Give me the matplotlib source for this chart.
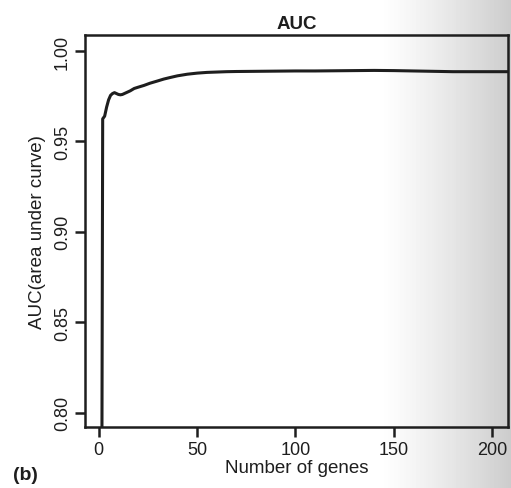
import numpy as np
import matplotlib
matplotlib.use("Agg")
import matplotlib.pyplot as plt

#%% Data.
n_genes = [1, 2, 3, 4, 5, 6, 7, 8, 9, 10, 11, 12, 14, 16, 18, 20, 23, 26, 30,
           33, 36, 40, 45, 50, 55, 60, 65, 70, 80, 90, 100, 110, 120, 130, 140,
           150, 160, 170, 180, 190, 200, 208]
auc = [0.50, 0.9625, 0.964, 0.969, 0.973, 0.9755, 0.9765, 0.977, 0.9765,
       0.976, 0.9758, 0.976, 0.977, 0.978, 0.9793, 0.980, 0.981, 0.9822,
       0.9835, 0.9845, 0.9853, 0.9863, 0.9872, 0.9878, 0.9882, 0.9884,
       0.9886, 0.9887, 0.9888, 0.9889, 0.989, 0.989, 0.9891, 0.9892, 0.9893,
       0.9892, 0.989, 0.9888, 0.9886, 0.9886, 0.9886, 0.9886]
x_ticks = [0, 50, 100, 150, 200]
y_ticks = [0.80, 0.85, 0.90, 0.95, 1.00]
y_tick_labels = ["0.80", "0.85", "0.90", "0.95", "1.00"]

plt.rcParams['font.family'] = ['Liberation Sans', 'DejaVu Sans']
ink = "#1e1e1e"

fig = plt.figure(figsize=(5.11, 4.89), dpi=100)

# faint scanner shading towards the right edge
bg = fig.add_axes([0, 0, 1, 1], zorder=-10)
grad = np.linspace(0, 1, 256)
shade = np.clip((grad - 0.74) / 0.26, 0, 1) ** 1.2
bg.imshow(1 - 0.2 * shade[np.newaxis, :], cmap="gray", vmin=0, vmax=1,
          aspect="auto", extent=[0, 1, 0, 1])
bg.axis("off")

ax = fig.add_axes([0.1663, 0.1247, 0.994 - 0.1663, 0.9264 - 0.1247])
ax.patch.set_alpha(0)
ax.plot(n_genes, auc, color=ink, lw=2.2, solid_joinstyle="round")
ax.set_xlim(-7, 208)
ax.set_ylim(0.792, 1.0089)

ax.set_xticks(x_ticks)
ax.set_yticks(y_ticks)
ax.set_yticklabels(y_tick_labels, rotation=90, va="center")
ax.tick_params(axis="both", length=7, width=1.8, color=ink, labelcolor=ink,
               labelsize=13, pad=3)
for sp in ax.spines.values():
    sp.set_linewidth(1.8)
    sp.set_color(ink)

ax.set_title("AUC", fontsize=13.5, fontweight="bold", color=ink, pad=5)
ax.set_xlabel("Number of genes", fontsize=13.5, color=ink, labelpad=1)
ax.set_ylabel("AUC(area under curve)", fontsize=13.5, color=ink, labelpad=6)
fig.text(0.025, 0.027, "(b)", fontsize=14, fontweight="bold", color=ink,
         va="center")

fig.savefig("out.png", dpi=100)
